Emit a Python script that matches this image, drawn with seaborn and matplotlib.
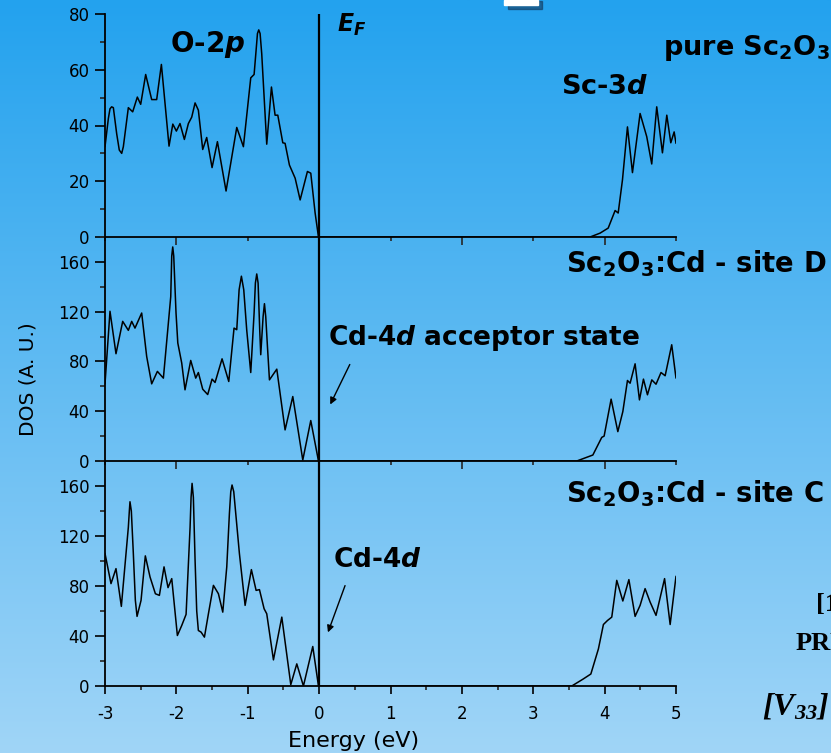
import numpy as np
import pandas as pd
import seaborn as sns
import matplotlib.pyplot as plt
from matplotlib.ticker import MultipleLocator
from matplotlib.patches import Rectangle

# DOS curves (energy in eV, DOS in A.U.)
energy_pure = [-3.0, -2.953, -2.93, -2.907, -2.883, -2.836, -2.8, -2.766, -2.743, -2.715,
               -2.673, -2.612, -2.547, -2.5, -2.43, -2.346, -2.276, -2.21, -2.103, -2.05,
               -2.0, -1.949, -1.888, -1.832, -1.785, -1.738, -1.692, -1.631, -1.575, -1.5,
               -1.425, -1.304, -1.154, -1.061, -0.958, -0.911, -0.883, -0.864, -0.846, -0.827,
               -0.804, -0.794, -0.734, -0.668, -0.617, -0.579, -0.509, -0.477, -0.416, -0.336,
               -0.266, -0.164, -0.117, -0.056, -0.009, 3.797, 3.937, 4.05, 4.147, 4.19,
               4.25, 4.32, 4.39, 4.497, 4.59, 4.66, 4.73, 4.81, 4.871, 4.927, 4.974, 5.0]
dos_pure = [32.4, 42.5, 46.0, 46.7, 46.4, 37.0, 31.2, 30.0, 32.4, 38.0,
            46.4, 44.9, 50.2, 47.6, 58.3, 49.3, 49.3, 61.9, 32.6, 40.5,
            38.0, 40.7, 35.0, 40.7, 43.0, 48.1, 45.5, 31.4, 35.7, 24.9,
            34.2, 16.5, 39.3, 32.4, 57.1, 58.3, 67.0, 73.0, 74.3, 73.0,
            65.7, 61.0, 33.3, 53.8, 43.7, 43.7, 33.8, 33.6, 25.8, 21.1,
            13.3, 23.5, 22.9, 8.6, 0.0, 0.0, 1.4, 3.2, 9.5, 8.6,
            20.5, 39.5, 23.1, 44.3, 36.0, 26.2, 46.7, 30.2, 43.7, 33.8, 37.7, 33.6]

energy_site_d = [-3.0, -2.93, -2.846, -2.752, -2.673, -2.626, -2.58, -2.486, -2.416, -2.346,
                 -2.266, -2.182, -2.079, -2.065, -2.051, -2.037, -2.005, -1.98, -1.925, -1.879,
                 -1.799, -1.729, -1.692, -1.631, -1.561, -1.5, -1.458, -1.36, -1.266, -1.192,
                 -1.154, -1.121, -1.089, -1.056, -1.014, -0.958, -0.911, -0.893, -0.874, -0.855,
                 -0.832, -0.818, -0.785, -0.766, -0.748, -0.724, -0.696, -0.593, -0.477, -0.369,
                 -0.229, -0.117, -0.009, 3.61, 3.835, 3.96, 3.993, 4.091, 4.185, 4.255,
                 4.32, 4.357, 4.427, 4.488, 4.544, 4.6, 4.661, 4.72, 4.79, 4.848, 4.94, 5.0]
dos_site_d = [62.0, 120.3, 86.2, 112.2, 105.0, 112.2, 106.8, 118.9, 84.0, 62.0,
              72.0, 66.6, 132.0, 164.7, 172.0, 164.7, 119.0, 94.8, 78.7, 57.2,
              80.8, 66.6, 71.1, 57.7, 53.4, 65.8, 63.1, 82.1, 63.9, 106.8,
              105.5, 137.6, 148.5, 137.6, 105.0, 71.1, 119.0, 143.0, 150.3, 143.0,
              105.0, 85.4, 116.0, 126.4, 116.0, 92.0, 65.2, 73.8, 25.0, 51.8,
              0.8, 32.5, 0.0, 0.0, 4.8, 19.0, 20.0, 49.7, 23.6, 39.7,
              64.7, 62.5, 78.1, 49.1, 65.8, 53.2, 65.2, 61.7, 71.1, 68.5, 93.4, 66.6]

energy_site_c = [-3.0, -2.916, -2.846, -2.771, -2.673, -2.659, -2.65, -2.631, -2.603, -2.575,
                 -2.551, -2.495, -2.435, -2.369, -2.294, -2.238, -2.173, -2.117, -2.065, -1.986,
                 -1.925, -1.864, -1.808, -1.794, -1.78, -1.762, -1.738, -1.715, -1.692, -1.654,
                 -1.607, -1.551, -1.481, -1.411, -1.35, -1.294, -1.257, -1.238, -1.22, -1.196,
                 -1.164, -1.117, -1.037, -0.949, -0.883, -0.836, -0.771, -0.734, -0.64, -0.523,
                 -0.397, -0.313, -0.22, -0.089, -0.009, 3.54, 3.70, 3.807, 3.913, 3.983,
                 4.04, 4.10, 4.17, 4.255, 4.34, 4.427, 4.497, 4.567, 4.637, 4.72,
                 4.84, 4.918, 5.0]
dos_site_c = [106.0, 81.9, 93.9, 63.7, 127.0, 140.0, 147.4, 140.0, 106.0, 68.7,
              55.7, 68.5, 104.1, 87.2, 73.8, 72.5, 95.3, 78.7, 85.9, 40.4,
              48.4, 57.3, 127.0, 151.0, 162.1, 151.0, 100.6, 60.0, 44.4, 43.1,
              39.1, 57.8, 80.5, 73.8, 59.1, 95.3, 138.0, 155.4, 160.8, 155.4,
              135.4, 106.0, 64.5, 93.1, 76.5, 77.1, 61.8, 57.8, 20.9, 55.1,
              1.1, 17.7, 0.0, 31.6, 0.0, 0.0, 5.6, 9.6, 29.7, 49.2,
              52.4, 55.1, 84.5, 68.0, 85.1, 55.7, 64.5, 77.9, 67.2, 56.5,
              85.9, 49.2, 87.8]

panels = [
    ("pure", energy_pure, dos_pure, 80, 20, 10),
    ("site D", energy_site_d, dos_site_d, 180, 40, 20),
    ("site C", energy_site_c, dos_site_c, 180, 40, 20),
]

sns.set_style("ticks")
plt.rcParams['font.family'] = ['DejaVu Sans']
plt.rcParams['axes.unicode_minus'] = False
plt.rcParams['mathtext.fontset'] = 'custom'
plt.rcParams['mathtext.rm'] = 'DejaVu Sans:bold'
plt.rcParams['mathtext.it'] = 'DejaVu Sans:bold:italic'
plt.rcParams['mathtext.bf'] = 'DejaVu Sans:bold'
plt.rcParams['mathtext.sf'] = 'Liberation Serif:bold:italic'

W, H = 831, 753
fig = plt.figure(figsize=(W / 100, H / 100), dpi=100)

# slide background gradient
bg = fig.add_axes([0, 0, 1, 1], zorder=-10)
grad = np.linspace(0, 1, 256)[:, None]
top_c = np.array([0x23, 0xa2, 0xee]) / 255
bot_c = np.array([0xa0, 0xd5, 0xf7]) / 255
img = top_c[None, None, :] * (1 - grad[:, :, None]) + bot_c[None, None, :] * grad[:, :, None]
bg.imshow(img, aspect='auto', extent=[0, 1, 0, 1])
bg.axis('off')

# small white slide element at the top
fig.patches.append(Rectangle((508 / W, 1 - 9 / H), 34 / W, 8 / H, transform=fig.transFigure,
                             color='#123050', alpha=0.55, zorder=-5))
fig.patches.append(Rectangle((504 / W, 1 - 5 / H), 34 / W, 5 / H, transform=fig.transFigure,
                             color='white', zorder=-4))

left, right = 105, 676
bounds = [(14, 237), (237, 461), (461, 686)]
axes = []
for i, (name, xs, ys, ytop, ymaj, ymin) in enumerate(panels):
    top_px, bot_px = bounds[i]
    ax = fig.add_axes([left / W, 1 - bot_px / H, (right - left) / W, (bot_px - top_px) / H])
    ax.set_facecolor('none')
    df = pd.DataFrame({"energy": xs, "dos": ys})
    sns.lineplot(data=df, x="energy", y="dos", ax=ax, color='black', lw=1.1,
                 estimator=None, sort=False, solid_joinstyle='round')
    ax.axvline(0, color='black', lw=1.6)
    ax.set_xlim(-3, 5)
    ax.set_ylim(0, ytop)
    ax.yaxis.set_major_locator(MultipleLocator(ymaj))
    ax.yaxis.set_minor_locator(MultipleLocator(ymin))
    for s in ['top', 'right']:
        ax.spines[s].set_visible(False)
    for s in ['left', 'bottom']:
        ax.spines[s].set_linewidth(1.3)
        ax.spines[s].set_color('black')
    ax.tick_params(axis='y', which='major', length=7, width=1.2, labelsize=12, pad=4,
                   colors='black')
    ax.tick_params(axis='y', which='minor', length=3.5, width=1.2)
    if i < 2:
        ax.xaxis.set_major_locator(MultipleLocator(2))
        ax.xaxis.set_minor_locator(MultipleLocator(1))
        ax.tick_params(axis='x', which='major', length=6, width=1.2, labelbottom=False)
        ax.tick_params(axis='x', which='minor', length=3, width=1.2)
    else:
        ax.xaxis.set_major_locator(MultipleLocator(1))
        ax.xaxis.set_minor_locator(MultipleLocator(0.5))
        ax.tick_params(axis='x', which='major', length=6, width=1.2, labelsize=12, pad=8,
                       colors='black')
        ax.tick_params(axis='x', which='minor', length=3, width=1.2)
    ax.set_xlabel("")
    ax.set_ylabel("")
    axes.append(ax)

axes[1].set_ylabel("DOS (A. U.)", fontsize=14.5, color='black')
axes[1].yaxis.set_label_coords((37 - left) / (right - left), (461 - 379) / 224)
axes[2].set_xlabel("Energy (eV)", fontsize=16, color='black')
axes[2].xaxis.set_label_coords((354 - left) / (right - left), (686 - 731) / 225)


def ftext(x, y, s, **kw):
    fig.text(x / W, 1 - y / H, s, va='center', color='black', **kw)


ftext(170, 45, r"O-$\mathit{2p}$", fontsize=20, fontweight='bold')
ftext(337, 25, r"$E_F$", fontsize=17)
ftext(663, 48, r"pure Sc$_2$O$_3$", fontsize=19.5, fontweight='bold')
ftext(561, 87, r"Sc-$\mathit{3d}$", fontsize=19.5, fontweight='bold')
ftext(566, 264, r"Sc$_2$O$_3$:Cd - site D", fontsize=19.8, fontweight='bold')
ftext(328, 338, r"Cd-4$\mathit{d}$ acceptor state", fontsize=19, fontweight='bold')
ftext(566, 494, r"Sc$_2$O$_3$:Cd - site C", fontsize=19.8, fontweight='bold')
ftext(333, 560, r"Cd-4$\mathit{d}$", fontsize=19, fontweight='bold')

# cropped slide text on the right edge
ftext(816, 605, "[1]", fontsize=19, fontweight='bold', family='Liberation Serif')
ftext(796, 644, "PRB", fontsize=19, fontweight='bold', family='Liberation Serif')
ftext(762, 706, r"$\mathsf{[V_{33}]}$", fontsize=23)

arrow = dict(arrowstyle='-|>', color='black', lw=1.0, mutation_scale=10)
axes[1].annotate("", xy=(329 / W, 1 - 407 / H), xytext=(351 / W, 1 - 362 / H),
                 xycoords='figure fraction', textcoords='figure fraction', arrowprops=arrow)
axes[2].annotate("", xy=(327 / W, 1 - 635 / H), xytext=(346 / W, 1 - 583 / H),
                 xycoords='figure fraction', textcoords='figure fraction', arrowprops=arrow)

fig.savefig("out.png", dpi=100)
